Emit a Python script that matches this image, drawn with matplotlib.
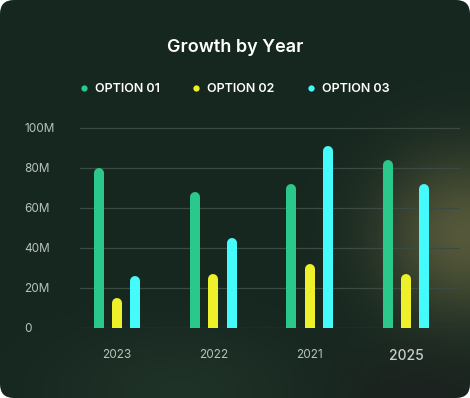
'''
Grouped bar chart: Growth by Year
'''

######################################

import numpy as np
import matplotlib.pyplot as plt
from matplotlib.patches import FancyBboxPatch
from matplotlib.lines import Line2D

######################################

# data
years=['2023','2022','2021','2025']
option01=[80,68,72,84]
option02=[15,27,32,27]
option03=[26,45,91,72]
seriesNames=['OPTION 01','OPTION 02','OPTION 03']
yTicks=[0,20,40,60,80,100]
yTickLabels=['0','20M','40M','60M','80M','100M']

colours=['#2ac88a','#eef02a','#45fafa']
textCol='#b9c2bd'

######################################

plt.rcParams['font.family']=['Inter','DejaVu Sans']

W,H=470,398
fig=plt.figure(figsize=(W/100,H/100),dpi=100)
fig.patch.set_facecolor('white')

# background card with gradient
bg=fig.add_axes([0,0,1,1])
bg.set_axis_off()
yy,xx=np.mgrid[0:H,0:W]
base=np.array([0x16,0x27,0x20])/255.
glow=np.array([0x55,0x58,0x3a])/255.
glow2=np.array([0x26,0x3a,0x2c])/255.
dark=np.array([0x1d,0x1f,0x1e])/255.
g1=np.exp(-(((xx-465)/85.)**2+((yy-235)/80.)**2))
g2=np.exp(-(((xx-180)/120.)**2+((yy-390)/60.)**2))
g3=np.exp(-(((xx-420)/90.)**2+((yy-398)/50.)**2))
img=base[None,None,:]*(1-g1[...,None]-0.6*g2[...,None]-0.7*g3[...,None]).clip(0,1)
img=img+glow[None,None,:]*g1[...,None]+glow2[None,None,:]*0.6*g2[...,None]+dark[None,None,:]*0.7*g3[...,None]
img=img.clip(0,1)
im=bg.imshow(img,extent=[0,W,H,0],aspect='auto')
bg.set_xlim(0,W)
bg.set_ylim(H,0)
card=FancyBboxPatch((0,0),W,H,boxstyle='round,pad=0,rounding_size=14',
                    transform=bg.transData,facecolor='none',edgecolor='none')
bg.add_patch(card)
im.set_clip_path(card)

# title
fig.text(0.5,1-47/H,'Growth by Year',ha='center',va='center',
         color='white',fontsize=13,fontweight='semibold')

# main axes
ax=fig.add_axes([80/W,70/H,380/W,202/H])
ax.set_facecolor('none')
x=np.arange(len(years))
yMax=101
ax.set_xlim(-0.385,3.56)
ax.set_ylim(0,yMax)

for s in ax.spines.values():
  s.set_visible(False)
ax.set_yticks(yTicks)
ax.set_yticklabels(yTickLabels)
ax.grid(axis='y',color='#3b4b43',linewidth=0.9)
ax.set_axisbelow(True)
ax.tick_params(axis='y',length=0,pad=0,labelcolor=textCol,labelsize=8.5)
for lab in ax.get_yticklabels():
  lab.set_horizontalalignment('left')
ax.yaxis.set_tick_params(pad=40)

# bars drawn as round-capped lines
barPx=10
axH=ax.get_position().height*H
r=(barPx/2)/axH*yMax
offs=[-0.19,0,0.19]
for k,vals in enumerate([option01,option02,option03]):
  for xi,v in zip(x,vals):
    ax.plot([xi+offs[k],xi+offs[k]],[-r,v-r],color=colours[k],
            linewidth=barPx*0.72,solid_capstyle='round',zorder=3)

# x tick labels, last year highlighted
ax.set_xticks(x)
ax.set_xticklabels(years)
ax.tick_params(axis='x',length=0,pad=15,labelcolor=textCol,labelsize=8.5)
xl=ax.get_xticklabels()
xl[-1].set_fontsize(10)
xl[-1].set_color('#c9cfcb')
xl[-1].set_fontweight('medium')

# legend
handles=[Line2D([],[],marker='o',linestyle='none',markersize=4.5,
                markerfacecolor=c,markeredgecolor='none') for c in colours]
leg=fig.legend(handles,seriesNames,loc='center',bbox_to_anchor=(0.5,1-89/H),
               ncol=3,frameon=False,fontsize=9,handlelength=0.6,
               handletextpad=0.6,columnspacing=2.6)
for t in leg.get_texts():
  t.set_color('white')
  t.set_fontweight('semibold')

fig.savefig('out.png',dpi=100,facecolor=fig.get_facecolor())
